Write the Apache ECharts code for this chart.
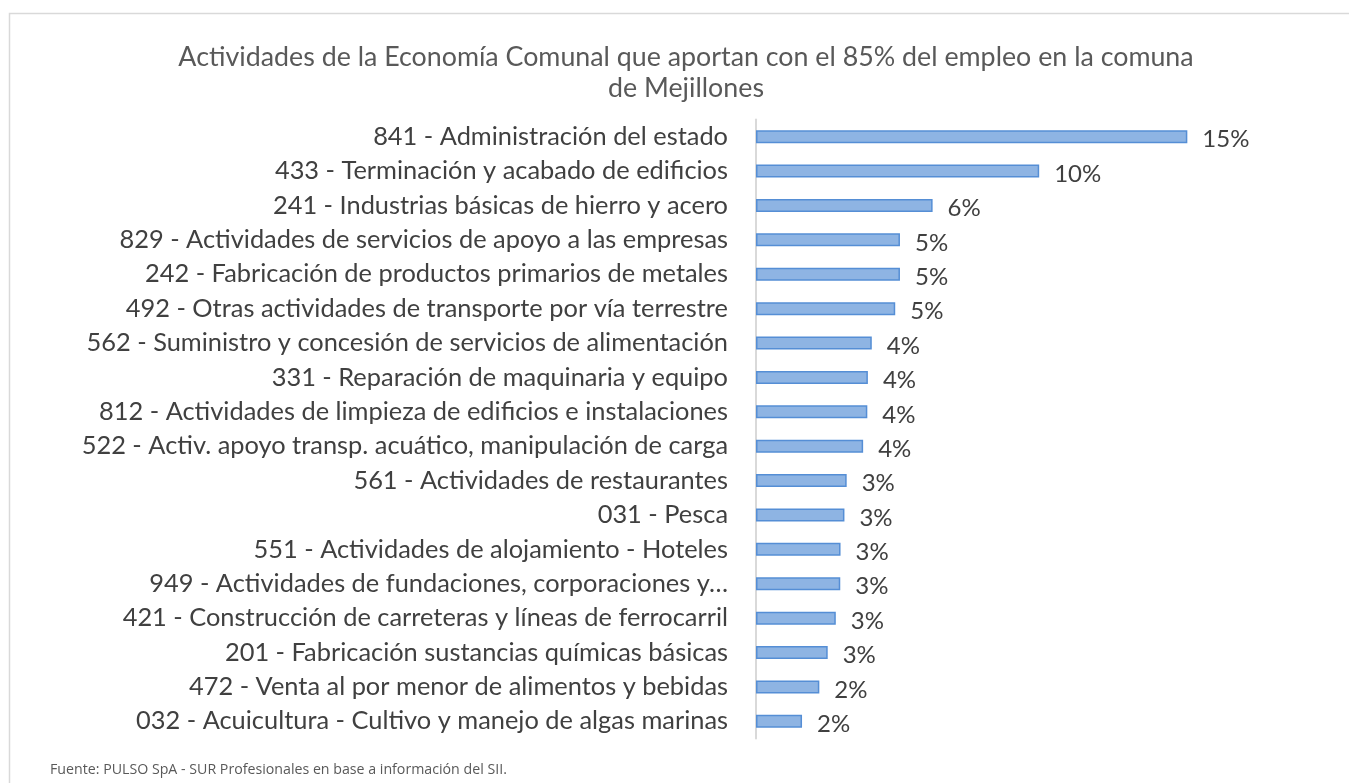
<!DOCTYPE html>
<html>
<head>
<meta charset="utf-8">
<script src="https://cdn.jsdelivr.net/npm/echarts@6/dist/echarts.min.js"></script>
<style>
  html, body { margin: 0; padding: 0; background: #fff; }
  #container { width: 1349px; height: 783px; }
</style>
</head>
<body>
<div id="container"></div>
<script>
var categorias = [
  "841 - Administración del estado",
  "433 - Terminación y acabado de edificios",
  "241 - Industrias básicas de hierro y acero",
  "829 - Actividades de servicios de apoyo a las empresas",
  "242 - Fabricación de productos primarios de metales",
  "492 - Otras actividades de transporte por vía terrestre",
  "562 - Suministro y concesión de servicios de alimentación",
  "331 - Reparación de maquinaria y equipo",
  "812 - Actividades de limpieza de edificios e instalaciones",
  "522 - Activ. apoyo transp. acuático, manipulación de carga",
  "561 - Actividades de restaurantes",
  "031 - Pesca",
  "551 - Actividades de alojamiento - Hoteles",
  "949 - Actividades de fundaciones, corporaciones y…",
  "421 - Construcción de carreteras y líneas de ferrocarril",
  "201 - Fabricación sustancias químicas básicas",
  "472 - Venta al por menor de alimentos y bebidas",
  "032 - Acuicultura - Cultivo y manejo de algas marinas"
];
// porcentaje del empleo comunal
var empleo = [15.46, 10.15, 6.33, 5.16, 5.16, 4.99, 4.15, 4.01, 3.99, 3.84,
              3.25, 3.17, 3.03, 3.02, 2.86, 2.57, 2.27, 1.65];

var dom = document.getElementById("container");
var myChart = echarts.init(dom);

var option = {
  backgroundColor: "#ffffff",
  animation: false,
  title: {
    text: "Actividades de la Economía Comunal que aportan con el 85% del empleo en la comuna\nde Mejillones",
    left: 681,
    top: 37,
    textAlign: "center",
    textStyle: {
      fontFamily: "Lato",
      fontSize: 26.8,
      fontWeight: "normal",
      color: "#595959",
      lineHeight: 31
    }
  },
  graphic: [
    {
      type: "rect",
      shape: { x: 9.5, y: 13.5, width: 1400, height: 800 },
      style: { fill: null, stroke: "#d9d9d9", lineWidth: 1.5 },
      silent: true
    },
    {
      type: "text",
      left: 50,
      top: 763,
      style: {
        text: "Fuente: PULSO SpA - SUR Profesionales en base a información del SII.",
        font: "14.2px 'Open Sans'",
        fill: "#595959"
      }
    }
  ],
  grid: {
    left: 756,
    right: 146.6,
    top: 119.5,
    bottom: 44.5,
    containLabel: false
  },
  xAxis: {
    type: "value",
    min: 0,
    max: 16,
    show: false
  },
  yAxis: {
    type: "category",
    inverse: true,
    data: categorias,
    axisLine: { show: true, lineStyle: { color: "#d9d9d9", width: 2 } },
    axisTick: { show: false },
    axisLabel: {
      margin: 28,
      fontFamily: "Lato",
      fontSize: 25.4,
      color: "#404040"
    }
  },
  series: [
    {
      name: "Empleo",
      type: "bar",
      data: empleo,
      barWidth: 13,
      itemStyle: {
        color: "#8eb4e3",
        borderColor: "#558ed5",
        borderWidth: 1.5
      },
      label: {
        show: true,
        position: "right",
        distance: 15,
        offset: [0, 3],
        fontFamily: "Lato",
        fontSize: 24,
        color: "#404040",
        formatter: function (p) {
          return Math.round(p.value) + "%";
        }
      }
    }
  ]
};
if (option && typeof option === "object") {
  myChart.setOption(option, true);
}
</script>
</body>
</html>
